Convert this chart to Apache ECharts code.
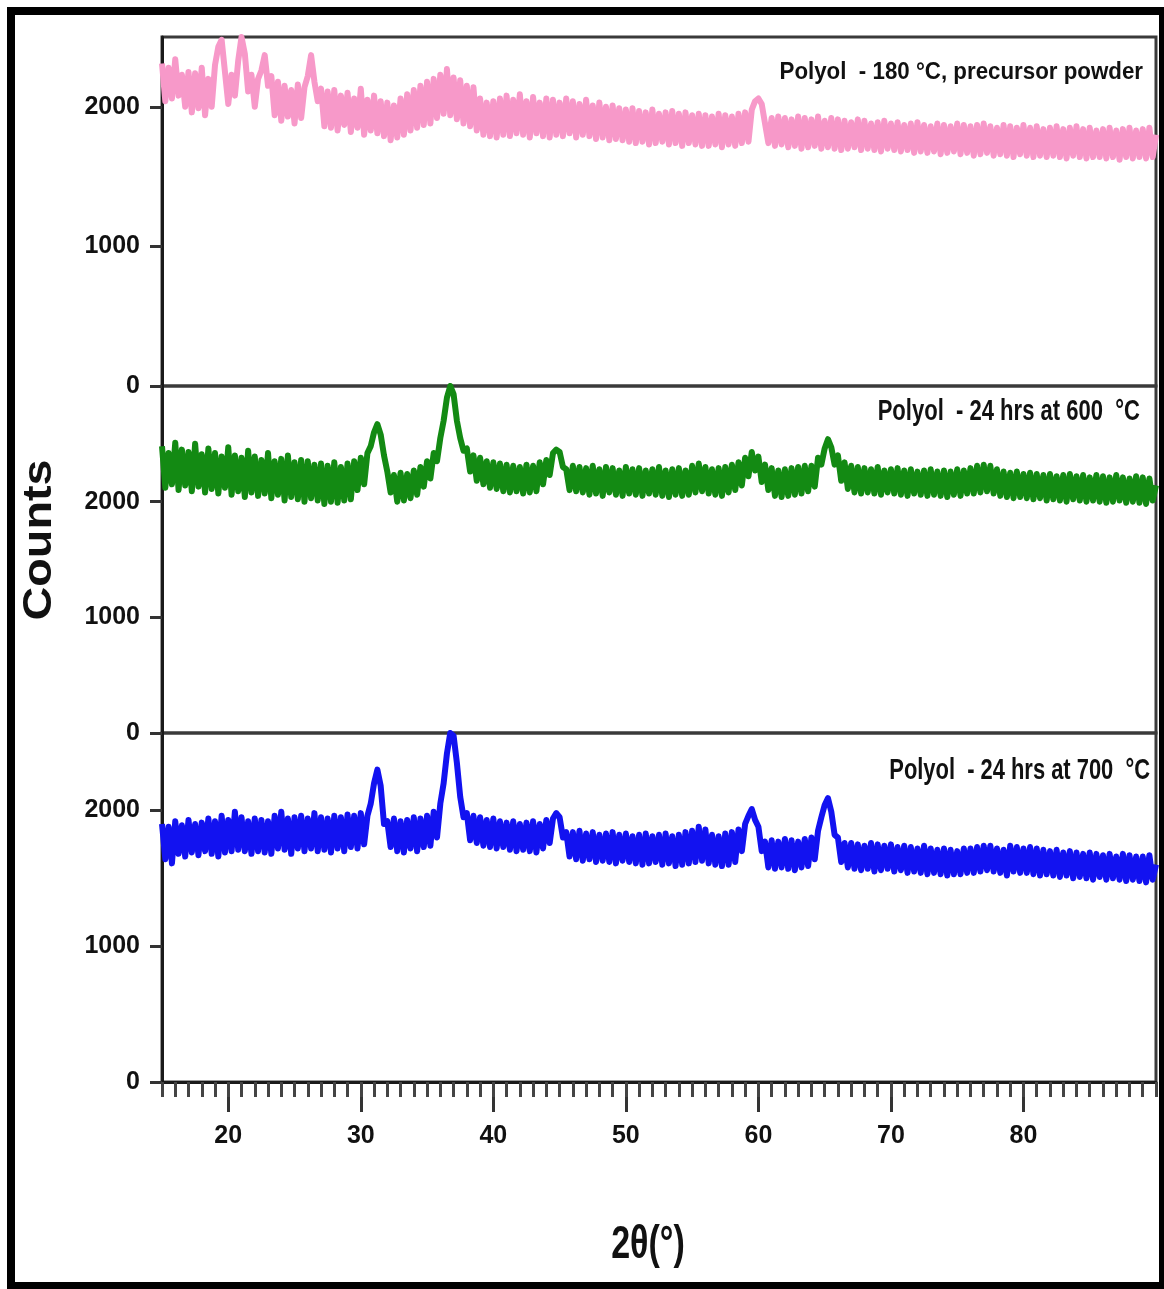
<!DOCTYPE html>
<html>
<head>
<meta charset="utf-8">
<script src="https://cdn.jsdelivr.net/npm/echarts@6/dist/echarts.min.js"></script>
<style>
html,body{margin:0;padding:0;background:#fff;}
#chart{width:1164px;height:1289px;}
</style>
</head>
<body>
<div id="chart"></div>
<script>
// 2-theta sampling of the digitised patterns
const thetaStart = 15;
const thetaStep = 0.25;

// Polyol - 180 °C, precursor powder (counts)
const precursor180 = [
2310,2040,2280,2060, 2340,2080,2230,2000, 2250,1960,2240,1990, 2280,1940,2200,2000,
2300,2430,2480,2250, 2020,2230,2080,2330, 2500,2380,2110,2230, 2000,2200,2260,2370,
2150,2220,1940,2180, 1900,2150,1930,2120, 1880,2160,1920,2140, 2220,2370,2180,2040,
2130,1860,2110,1850, 2120,1830,2080,1870, 2100,1820,2060,1850, 2130,1800,2050,1830,
2080,1810,2040,1790, 2030,1760,2010,1780, 2060,1800,2090,1830, 2120,1850,2150,1870,
2180,1880,2200,1920, 2230,1950,2270,1940, 2210,1910,2190,1880, 2150,1860,2140,1830,
2060,1800,2030,1790, 2040,1780,2060,1800, 2080,1790,2050,1810, 2090,1800,2040,1780,
2070,1810,2030,1790, 2060,1780,2050,1800, 2030,1790,2060,1810, 2040,1780,2020,1800,
2050,1790,2010,1770, 2030,1780,2000,1760, 2010,1770,1990,1760, 1980,1750,1990,1740,
1970,1750,1960,1730, 1980,1740,1950,1750, 1960,1730,1970,1740, 1950,1720,1960,1740,
1940,1730,1950,1720, 1940,1720,1930,1730, 1950,1710,1940,1730, 1930,1720,1950,1740,
1960,1750,1980,2040, 2060,2020,1880,1740, 1920,1720,1930,1730, 1920,1710,1910,1720,
1930,1700,1920,1710, 1910,1720,1930,1700, 1900,1710,1920,1700, 1910,1690,1900,1700,
1890,1710,1910,1690, 1900,1700,1880,1690, 1890,1680,1900,1700, 1880,1690,1890,1680,
1870,1690,1880,1670, 1890,1680,1870,1670, 1860,1680,1880,1660, 1870,1670,1860,1680,
1880,1660,1870,1670, 1860,1650,1870,1660, 1880,1670,1860,1650, 1850,1660,1870,1650,
1860,1640,1850,1660, 1870,1650,1850,1640, 1860,1650,1840,1640, 1850,1650,1860,1640,
1840,1630,1850,1650, 1860,1640,1840,1630, 1850,1640,1830,1640, 1840,1630,1850,1640,
1830,1620,1840,1640, 1850,1630,1830,1640, 1840,1630,1850,1640,
1800
];

// Polyol - 24 hrs at 600 °C (counts)
const calcined600 = [
2480,2120,2420,2150, 2510,2100,2450,2140, 2430,2090,2500,2130, 2410,2080,2460,2110,
2420,2070,2390,2120, 2470,2060,2400,2090, 2380,2040,2440,2080, 2390,2050,2360,2070,
2420,2030,2350,2060, 2370,2010,2400,2040, 2340,2020,2360,2000, 2350,2030,2320,2010,
2330,1980,2310,2000, 2340,1990,2300,2010, 2330,2020,2350,2100, 2380,2150,2420,2480,
2600,2670,2580,2400, 2260,2080,2230,2000, 2250,2010,2240,2030, 2270,2060,2300,2130,
2350,2200,2420,2350, 2550,2700,2900,3000, 2930,2700,2550,2440, 2460,2260,2400,2180,
2380,2150,2350,2120, 2340,2110,2330,2090, 2320,2080,2310,2090, 2300,2070,2320,2080,
2310,2090,2340,2150, 2360,2230,2420,2450, 2430,2300,2280,2100, 2310,2090,2300,2080,
2290,2060,2310,2070, 2280,2050,2300,2080, 2290,2060,2270,2050, 2300,2070,2280,2060,
2290,2050,2270,2070, 2280,2060,2300,2050, 2270,2040,2280,2060, 2290,2050,2270,2060,
2310,2080,2330,2090, 2300,2070,2280,2060, 2290,2050,2300,2080, 2320,2100,2340,2140,
2380,2220,2430,2270, 2390,2170,2320,2100, 2290,2050,2270,2040, 2280,2050,2290,2060,
2300,2070,2310,2090, 2310,2130,2380,2320, 2460,2540,2470,2320, 2400,2180,2340,2110,
2310,2080,2300,2070, 2290,2080,2280,2070, 2300,2060,2270,2080, 2280,2070,2290,2060,
2270,2050,2280,2070, 2260,2060,2270,2050, 2280,2060,2260,2050, 2270,2040,2260,2060,
2280,2050,2270,2070, 2290,2070,2310,2080, 2320,2090,2310,2070, 2280,2050,2260,2040,
2250,2030,2260,2040, 2240,2030,2250,2020, 2240,2030,2230,2010, 2240,2020,2220,2010,
2230,2000,2240,2020, 2220,2010,2230,2000, 2210,2010,2230,2000, 2220,1990,2210,2000,
2230,2010,2210,1990, 2200,2000,2220,1990, 2210,1980,2200,2010,
2140
];

// Polyol - 24 hrs at 700 °C (counts)
const calcined700 = [
1900,1640,1880,1610, 1920,1680,1890,1660, 1930,1690,1900,1670, 1910,1700,1940,1680,
1920,1660,1960,1690, 1930,1700,1990,1710, 1950,1700,1920,1680, 1940,1700,1930,1690,
1920,1680,1960,1720, 1990,1710,1940,1680, 1950,1720,1960,1700, 1940,1720,1980,1700,
1950,1710,1940,1690, 1960,1720,1950,1700, 1970,1730,1960,1720, 1980,1750,1960,2050,
2200,2300,2180,1900, 1920,1730,1940,1700, 1920,1690,1930,1720, 1950,1700,1940,1730,
1960,1740,1990,1800, 2050,2200,2420,2570, 2550,2350,2100,1950, 1980,1780,1960,1760,
1950,1740,1930,1730, 1940,1720,1920,1730, 1910,1710,1920,1700, 1900,1710,1910,1700,
1920,1690,1900,1720, 1930,1760,1940,1980, 1950,1800,1840,1660, 1840,1640,1850,1630,
1830,1640,1840,1620, 1820,1630,1830,1620, 1840,1610,1820,1630, 1830,1620,1810,1610,
1820,1600,1830,1610, 1810,1620,1820,1600, 1830,1610,1810,1590, 1820,1600,1840,1610,
1850,1620,1880,1630, 1860,1610,1820,1600, 1810,1590,1830,1600, 1840,1620,1860,1700,
1900,1960,2010,1930, 1880,1700,1770,1580, 1780,1570,1770,1580, 1790,1570,1780,1560,
1770,1580,1790,1590, 1800,1640,1850,1950, 2040,2090,1990,1820, 1800,1620,1760,1580,
1760,1570,1750,1560, 1740,1570,1760,1550, 1750,1560,1740,1570, 1750,1550,1730,1560,
1740,1540,1730,1550, 1720,1540,1740,1530, 1720,1540,1710,1530, 1720,1520,1710,1530,
1700,1530,1720,1540, 1720,1540,1730,1550, 1740,1560,1740,1550, 1720,1540,1710,1520,
1740,1550,1730,1540, 1720,1540,1730,1530, 1720,1520,1710,1530, 1700,1520,1710,1510,
1690,1520,1700,1500, 1690,1510,1680,1500, 1690,1490,1680,1510, 1670,1490,1680,1500,
1660,1490,1680,1480, 1670,1490,1660,1480, 1660,1470,1670,1490,
1600
];

const panelLabels = [
  'Polyol  - 180 \u00B0C, precursor powder',
  'Polyol  - 24 hrs at 600  \u00B0C',
  'Polyol  - 24 hrs at 700  \u00B0C'
];
const yTickValues = [0, 1000, 2000];
const xMajorTicks = [20, 30, 40, 50, 60, 70, 80];
const panelMax = [2500, 3000, 2570];
const xMin = 15, xMax = 90;

const toPairs = arr => arr.map((v, i) => [thetaStart + i * thetaStep, v]);

const FONT = '"Liberation Sans",Arial,sans-serif';
const lineColors = ['#f799c9', '#138a13', '#1212f0'];

const grids = [
  {left: 162, right: 8, top: 37, height: 349},
  {left: 162, right: 8, top: 386, height: 347},
  {left: 162, right: 8, top: 733, height: 349}
].map(g => Object.assign(g, {show: true, borderColor: '#3a3a3a', borderWidth: 3, backgroundColor: 'transparent'}));

const plainNum = v => String(v);

const xAxes = [0, 1].map(i => ({
  gridIndex: i, type: 'value', min: xMin, max: xMax, show: false
}));
xAxes.push({
  gridIndex: 2, type: 'value', min: xMin, max: xMax, position: 'bottom',
  axisLine: {show: true, onZero: false, lineStyle: {color: '#1a1a1a', width: 3}},
  axisTick: {show: true, customValues: xMajorTicks, length: 30, lineStyle: {color: '#333', width: 3}},
  axisLabel: {show: true, customValues: xMajorTicks, margin: 42, color: '#111', formatter: plainNum,
    fontFamily: FONT, fontWeight: 'bold', fontSize: 25},
  splitLine: {show: false}
});
xAxes.push({
  gridIndex: 2, type: 'value', min: xMin, max: xMax, interval: 1, position: 'bottom',
  axisLine: {show: false},
  axisTick: {show: true, length: 15, lineStyle: {color: '#444', width: 3}},
  axisLabel: {show: false},
  splitLine: {show: false}
});

const yAxes = [0, 1, 2].map(i => ({
  gridIndex: i, type: 'value', min: 0, max: panelMax[i],
  axisLine: {show: true, onZero: false, lineStyle: {color: '#1a1a1a', width: 3}},
  axisTick: {show: true, customValues: yTickValues, length: 12, lineStyle: {color: '#333', width: 3}},
  axisLabel: {show: true, customValues: yTickValues, margin: 22, color: '#111', formatter: plainNum,
    fontFamily: FONT, fontWeight: 'bold', fontSize: 25},
  splitLine: {show: false}
}));

const datasets = [precursor180, calcined600, calcined700];
const series = datasets.map((d, i) => ({
  type: 'line', name: panelLabels[i], xAxisIndex: i, yAxisIndex: i,
  data: toPairs(d), showSymbol: false, symbol: 'none',
  lineStyle: {color: lineColors[i], width: 6, join: 'round', cap: 'butt'},
  itemStyle: {color: lineColors[i]},
  clip: true, z: 2
}));

const chart = echarts.init(document.getElementById('chart'), null, {renderer: 'canvas'});
chart.setOption({
  animation: false,
  backgroundColor: '#fff',
  grid: grids,
  xAxis: xAxes,
  yAxis: yAxes,
  series: series,
  graphic: [
    // outer black frame
    {type: 'rect', shape: {x: 7, y: 7, width: 1157, height: 8}, style: {fill: '#000'}},
    {type: 'rect', shape: {x: 7, y: 7, width: 8, height: 1282}, style: {fill: '#000'}},
    {type: 'rect', shape: {x: 1159, y: 7, width: 5, height: 1282}, style: {fill: '#000'}},
    {type: 'rect', shape: {x: 7, y: 1282, width: 1157, height: 7}, style: {fill: '#000'}},
    // panel captions
    {type: 'text', x: 1143, y: 73, scaleX: 0.97, style: {text: panelLabels[0], fill: '#111',
      font: 'bold 23px "Liberation Sans", Arial, sans-serif', align: 'right', verticalAlign: 'middle'}},
    {type: 'text', x: 1140, y: 412, scaleX: 0.76, style: {text: panelLabels[1], fill: '#111',
      font: 'bold 29px "Liberation Sans", Arial, sans-serif', align: 'right', verticalAlign: 'middle'}},
    {type: 'text', x: 1150, y: 771, scaleX: 0.73, style: {text: panelLabels[2], fill: '#111',
      font: 'bold 30px "Liberation Sans", Arial, sans-serif', align: 'right', verticalAlign: 'middle'}},
    // axis titles
    {type: 'text', x: 40, y: 540, rotation: Math.PI / 2, scaleX: 1.17, style: {text: 'Counts', fill: '#111',
      font: 'bold 40px "Liberation Sans", Arial, sans-serif', align: 'center', verticalAlign: 'middle'}},
    {type: 'text', x: 648, y: 1245, scaleX: 0.74, style: {text: '2\u03B8(\u00B0)', fill: '#111',
      font: 'bold 46px "Liberation Sans", Arial, sans-serif', align: 'center', verticalAlign: 'middle'}}
  ]
});
</script>
</body>
</html>
